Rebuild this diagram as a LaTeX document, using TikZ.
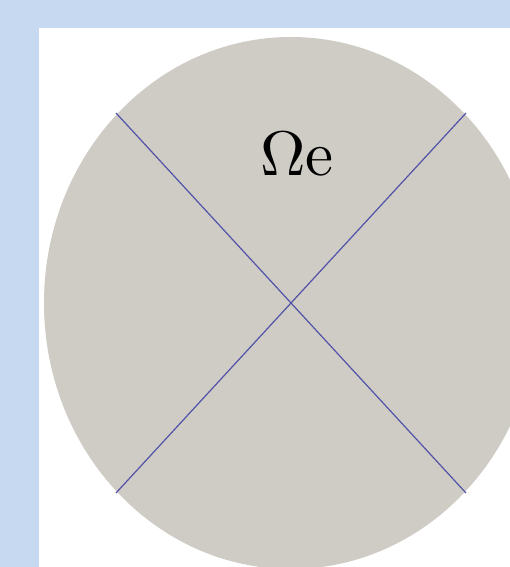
\documentclass[tikz,border=0pt]{standalone}
\usepackage{amsmath}
\usepackage{tikz}
\usetikzlibrary{positioning}
\definecolor{colorbg}{RGB}{198,217,240}
\definecolor{colordom}{RGB}{207,204,198}
\definecolor{colorcut}{RGB}{82,82,168}
\tikzset{cutline/.style={colorcut, line width=1.2pt}}

\begin{document}
\begin{tikzpicture}[x=1pt, y=-1pt]
            \useasboundingbox (0,0) rectangle (510,567);
            \clip (0,0) rectangle (510,567);
            % Frame
            \fill[colorbg] (0,0) rectangle (510,567);
            \fill[white] (38.5,28.5) rectangle (510,567);

            % Domain
            \fill[colordom] (291,303) ellipse [x radius=247, y radius=266];

            % Cut ends
            \coordinate (nw) at (116,113);
            \coordinate (ne) at (466,113);
            \coordinate (sw) at (116,493);
            \coordinate (se) at (466,493);
            \draw[cutline] (nw) -- (se);
            \draw[cutline] (ne) -- (sw);

            \node[scale=6.3, inner sep=0pt] (omega) at (297,154) {$\Omega$e};
        \end{tikzpicture}
\end{document}
